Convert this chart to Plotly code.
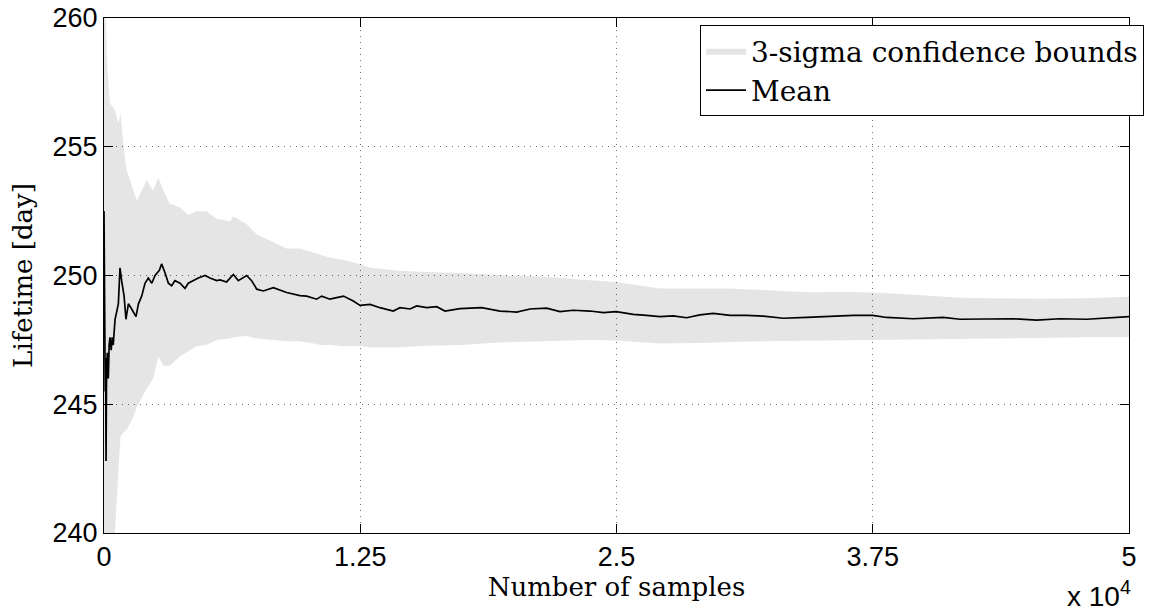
import plotly.graph_objects as go

# ---- data ----
mean_x = [0, 20, 40, 60, 80, 100, 120, 160, 190, 210, 250, 290, 350, 400, 450,
          540, 700, 780, 860, 980, 1070, 1190, 1350, 1560, 1680, 1840, 2000,
          2160, 2330, 2490, 2700, 2810, 2980, 3140, 3300, 3460, 3710, 3950,
          4110, 4360, 4600, 4930, 5170, 5500, 5660, 5980, 6310, 6550, 6960,
          7200, 7450, 7770, 8260, 8910, 9560, 9890, 10370, 10620, 11020, 11680,
          12160, 12490, 12980, 13460, 13630, 14110, 14440, 14930, 15250, 15740,
          16230, 16630, 17370, 18420, 19320, 20130, 20780, 21590, 22240, 22890,
          23710, 24360, 24980, 25820, 26470, 27120, 27770, 28420, 29070, 29720,
          30540, 31350, 32160, 33140, 34280, 35420, 36550, 37500, 38180, 39480,
          40940, 41760, 43220, 44360, 45500, 46630, 47940, 48910, 50000]
mean_y = [252.5, 247.5, 249.0, 245.5, 246.8, 242.8, 245.8, 247.0, 246.3, 246.0,
          247.3, 247.6, 247.1, 247.6, 247.3,
          248.3, 248.9, 250.3, 249.8, 249.2, 248.3, 248.9, 248.7, 248.4, 248.9,
          249.2, 249.7, 249.9, 249.7, 250.0, 250.2, 250.45, 250.1, 249.7, 249.6,
          249.8, 249.7, 249.5, 249.7, 249.8, 249.9, 250.0, 249.9, 249.8, 249.83,
          249.75, 250.04, 249.8, 250.0, 249.8, 249.47, 249.4, 249.53, 249.34,
          249.22, 249.2, 249.08, 249.2, 249.08, 249.2, 249.01, 248.84, 248.88,
          248.75, 248.71, 248.62, 248.75, 248.7, 248.82, 248.75, 248.79, 248.62,
          248.71, 248.75, 248.62, 248.58, 248.7, 248.73, 248.6, 248.65, 248.62,
          248.56, 248.6, 248.49, 248.45, 248.4, 248.43, 248.36, 248.47, 248.53,
          248.45, 248.45, 248.42, 248.34, 248.37, 248.42, 248.45, 248.45, 248.37,
          248.32, 248.37, 248.3, 248.32, 248.32, 248.27, 248.32, 248.3, 248.34,
          248.4]

band_x = [0, 50, 160, 290, 540, 700, 810, 940, 1100, 1430, 1600, 2080, 2400,
          2650, 2900, 3200, 3700, 4100, 4500, 5000, 5500, 6150, 6300, 6950,
          7450, 8250, 8900, 9550, 10200, 10600, 11000, 11700, 12500, 13000,
          14400, 15400, 17400, 19300, 21600, 23700, 25000, 27100, 29100, 30500,
          32200, 34300, 36500, 37500, 39500, 41800, 43200, 45500, 47900, 50000]
band_upper = [263.0, 261.0, 258.1, 256.7, 256.4, 255.9, 256.3, 255.1, 254.1,
              253.3, 252.9, 253.7, 253.3, 253.8, 253.3, 252.8, 252.65, 252.35,
              252.5, 252.5, 252.2, 252.1, 252.3, 252.0, 251.6, 251.3, 251.05,
              251.05, 250.9, 250.8, 250.7, 250.6, 250.44, 250.3, 250.18, 250.15,
              250.1, 250.02, 249.95, 249.82, 249.75, 249.5, 249.5, 249.5, 249.44,
              249.35, 249.36, 249.34, 249.25, 249.14, 249.12, 249.1, 249.12,
              249.17]
band_lower = [237.0, 237.0, 237.0, 238.0, 240.1, 242.4, 243.75, 243.9, 244.0,
              244.5, 244.9, 245.6, 246.0, 246.85, 246.5, 246.5, 246.85, 247.05,
              247.25, 247.3, 247.5, 247.55, 247.6, 247.65, 247.55, 247.5, 247.45,
              247.45, 247.36, 247.3, 247.3, 247.25, 247.26, 247.2, 247.2, 247.26,
              247.3, 247.4, 247.45, 247.5, 247.48, 247.36, 247.38, 247.42, 247.45,
              247.48, 247.5, 247.5, 247.52, 247.55, 247.55, 247.57, 247.6, 247.6]

x_tickvals = [0, 12500, 25000, 37500, 50000]
x_ticktext = ["0", "1.25", "2.5", "3.75", "5"]
y_tickvals = [240, 245, 250, 255, 260]

serif = "DejaVu Serif"
sans = "Liberation Sans, Arial, sans-serif"

fig = go.Figure()
fig.add_trace(go.Scatter(
    x=band_x + band_x[::-1],
    y=band_upper + band_lower[::-1],
    fill="toself", fillcolor="rgba(0,0,0,0.1)",
    line=dict(width=0), mode="lines",
    name="3-sigma confidence bounds", hoverinfo="skip"))
fig.add_trace(go.Scatter(
    x=mean_x, y=mean_y, mode="lines",
    line=dict(color="black", width=1.7), name="Mean"))

axis_common = dict(
    automargin=False,
    showline=True, linecolor="black", linewidth=1, mirror="ticks",
    ticks="inside", ticklen=9, tickcolor="black", tickwidth=1,
    showgrid=True, gridcolor="#6e6e6e", griddash="1px,5px", gridwidth=1,
    zeroline=False, tickfont=dict(family=sans, size=27, color="black"),
)

fig.update_xaxes(range=[0, 50000], tickvals=x_tickvals, ticktext=x_ticktext,
                 title=dict(text="Number of samples",
                            font=dict(family=serif, size=26, color="black"),
                            standoff=2),
                 **axis_common)
fig.update_yaxes(range=[240, 260], tickvals=y_tickvals,
                 title=dict(text="Lifetime [day]",
                            font=dict(family=serif, size=26, color="black"),
                            standoff=12),
                 **axis_common)

fig.add_annotation(text="x 10<sup>4</sup>", xref="paper", yref="paper",
                   x=(1133 - 104) / 1025, y=(533 - 594) / 515,
                   xanchor="right", yanchor="middle", showarrow=False,
                   font=dict(family=sans, size=28, color="black"))

fig.update_layout(
    width=1154, height=614,
    margin=dict(l=104, r=25, t=18, b=81, pad=0, autoexpand=False),
    plot_bgcolor="white", paper_bgcolor="white",
    showlegend=True,
    legend=dict(x=(700 - 104) / 1025, y=1 - (25 - 18) / 515,
                xanchor="left", yanchor="top",
                bgcolor="white", bordercolor="black", borderwidth=1,
                font=dict(family=serif, size=28, color="black"),
                tracegroupgap=0, itemwidth=40),
)

fig.write_html("out.html",
               config={"displayModeBar": False},
               post_script="document.body.style.margin='0';"
                           "document.body.style.overflow='hidden';")
